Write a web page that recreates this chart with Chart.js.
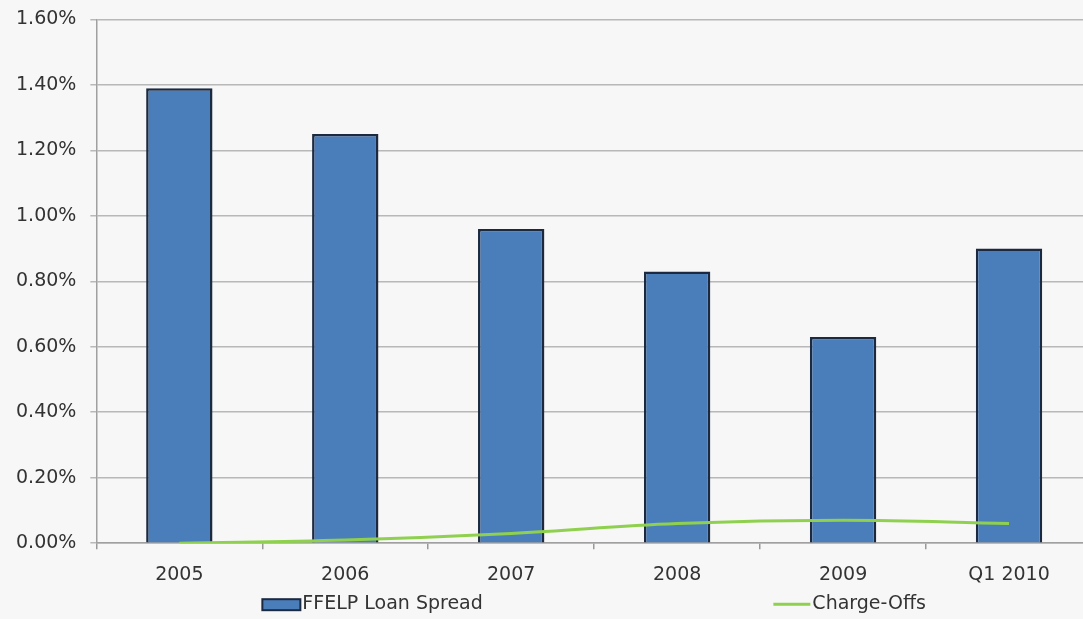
<!DOCTYPE html>
<html>
<head>
<meta charset="utf-8">
<title>FFELP Loan Spread vs Charge-Offs</title>
<script src="https://cdn.jsdelivr.net/npm/chart.js@4/dist/chart.umd.min.js"></script>
<style>
  html, body { margin: 0; padding: 0; background: #f7f7f7; overflow: hidden; }
  #wrap { width: 1092px; height: 625px; margin-top: -6px; }
  canvas { display: block; }
</style>
</head>
<body>
<div id="wrap"><canvas id="c" width="1092" height="625"></canvas></div>
<script>
// Periods shown along the x axis
const categories = ['2005', '2006', '2007', '2008', '2009', 'Q1 2010'];
// FFELP loan spread, in percent
const loanSpread = [1.39, 1.25, 0.96, 0.83, 0.63, 0.90];
// Charge-offs, in percent
const chargeOffs = [0.00, 0.01, 0.03, 0.06, 0.07, 0.06];
// Y axis tick labels, bottom to top
const yTickLabels = ['0.00%', '0.20%', '0.40%', '0.60%', '0.80%', '1.00%', '1.20%', '1.40%', '1.60%'];
const seriesNames = ['FFELP Loan Spread', 'Charge-Offs'];

const FONT = 'DejaVu Sans, Verdana, sans-serif';
const TEXT = '#333333';
const BAR_FILL = '#4a7ebb';
const BAR_EDGE = '#1b2a40';
const LINE_GREEN = '#8fd14f';

// Legend drawn below the axis labels, two items spread apart
const spreadLegend = {
  id: 'spreadLegend',
  afterDraw(chart) {
    const ctx = chart.ctx;
    const area = chart.chartArea;
    const y = area.bottom + 61;
    ctx.save();
    ctx.font = '19px ' + FONT;
    ctx.fillStyle = TEXT;
    ctx.textBaseline = 'middle';
    ctx.textAlign = 'left';

    // bar swatch
    const x1 = area.left + 166;
    ctx.fillStyle = BAR_FILL;
    ctx.fillRect(x1, y - 5, 38, 11);
    ctx.strokeStyle = BAR_EDGE;
    ctx.lineWidth = 2;
    ctx.strokeRect(x1, y - 5, 38, 11);
    ctx.fillStyle = TEXT;
    ctx.fillText(chart.data.datasets[0].label, x1 + 40, y);

    // line swatch
    const x2 = area.left + 677;
    ctx.strokeStyle = LINE_GREEN;
    ctx.lineWidth = 3;
    ctx.beginPath();
    ctx.moveTo(x2, y);
    ctx.lineTo(x2 + 37, y);
    ctx.stroke();
    ctx.fillStyle = TEXT;
    ctx.fillText(chart.data.datasets[1].label, x2 + 39, y);
    ctx.restore();
  }
};

new Chart(document.getElementById('c'), {
  data: {
    labels: categories,
    datasets: [
      {
        type: 'bar',
        label: seriesNames[0],
        data: loanSpread,
        backgroundColor: BAR_FILL,
        borderColor: BAR_EDGE,
        borderWidth: 2.5,
        barPercentage: 0.4,
        categoryPercentage: 1.0,
        order: 1
      },
      {
        type: 'line',
        label: seriesNames[1],
        data: chargeOffs,
        borderColor: LINE_GREEN,
        borderWidth: 3,
        pointRadius: 0,
        tension: 0.4,
        fill: false,
        order: 0
      }
    ]
  },
  options: {
    responsive: false,
    animation: false,
    devicePixelRatio: 1,
    layout: { padding: { top: 13, left: 2, right: 0, bottom: 19 } },
    plugins: {
      legend: { display: false },
      tooltip: { enabled: false }
    },
    scales: {
      x: {
        offset: true,
        grid: {
          display: true,
          drawOnChartArea: false,
          drawTicks: true,
          tickLength: 6,
          color: '#999999',
          lineWidth: 1.5
        },
        border: { display: true, color: '#a0a0a0', width: 1.5 },
        ticks: {
          color: TEXT,
          font: { family: FONT, size: 19 },
          padding: 14,
          maxRotation: 0
        }
      },
      y: {
        min: 0,
        max: 1.6,
        grid: {
          color: '#b8b8b8',
          lineWidth: 1.5,
          tickLength: 6,
          drawTicks: true
        },
        border: { display: true, color: '#a0a0a0', width: 1.5 },
        ticks: {
          stepSize: 0.2,
          color: TEXT,
          font: { family: FONT, size: 19 },
          padding: 14,
          callback: (value, index) => yTickLabels[index]
        }
      }
    }
  },
  plugins: [spreadLegend]
});
</script>
</body>
</html>
